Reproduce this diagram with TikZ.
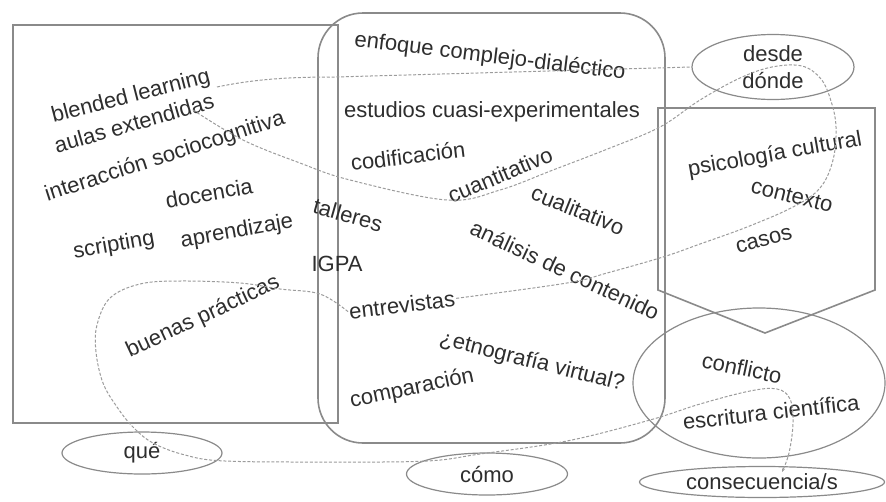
\documentclass[tikz,border=0pt]{standalone}
\usepackage{fontspec}
\setmainfont{Liberation Sans}
\usetikzlibrary{shapes.geometric,arrows.meta}
\definecolor{txt}{HTML}{2E2E2E}
\definecolor{frm}{HTML}{8A8A8A}
\definecolor{dsh}{HTML}{9C9C9C}
\begin{document}
\begin{tikzpicture}[x=1pt,y=-1pt,
  lbl/.style={font=\fontsize{22}{27}\selectfont, text=txt, inner sep=1pt},
  frame/.style={draw=frm, line width=1.6pt},
  oval/.style={ellipse, draw=frm, line width=1.2pt, inner sep=0pt, font=\fontsize{22}{27}\selectfont, text=txt, align=center},
  dl/.style={draw=dsh, line width=1pt, dash pattern=on 3pt off 1.8pt},
]
\useasboundingbox (0,0) rectangle (886,501);
\fill[white] (0,0) rectangle (886,501);

% containers
\draw[frame] (13,25) rectangle (338,423);
\draw[frame, rounded corners=45pt] (318,13) rectangle (665,443);
\draw[frame] (658,108) -- (875,108) -- (875,290) -- (765,333) -- (658,290) -- cycle;
\draw[frame, line width=1.2pt] (759,383) ellipse (126 and 75);

% ovals
\node[oval, minimum width=162pt, minimum height=65pt] (dd) at (773,67) {desde\\dónde};
\node[oval, minimum width=160pt, minimum height=42pt] (que) at (142,453) {qué};
\node[oval, minimum width=161pt, minimum height=42pt] (como) at (487,474) {cómo};
\node[oval, minimum width=245pt, minimum height=31pt] (cons) at (762,482) {consecuencia/s};

% left box labels
\node[lbl, rotate=14.5] (bl) at (131,97) {blended learning};
\node[lbl, rotate=16] (ae) at (134,123) {aulas extendidas};
\node[lbl, rotate=18] (is) at (165,157) {interacción sociocognitiva};
\node[lbl, rotate=10] (doc) at (209,193) {docencia};
\node[lbl, rotate=10] (scr) at (114,246) {scripting};
\node[lbl, rotate=10] (apr) at (237,232) {aprendizaje};
\node[lbl, rotate=-16] (tal) at (348,215) {talleres};
\node[lbl] (igpa) at (337,264) {IGPA};
\node[lbl, rotate=25] (bp) at (203,317) {buenas prácticas};

% middle labels
\node[lbl, rotate=-7] (enf) at (490,57) {enfoque complejo-dialéctico};
\node[lbl] (est) at (492,112) {estudios cuasi-experimentales};
\node[lbl, rotate=7] (cod) at (408,156) {codificación};
\node[lbl, rotate=23] (cuan) at (500,175) {cuantitativo};
\node[lbl, rotate=-22] (cual) at (578,210) {cualitativo};
\node[lbl, rotate=-25] (an) at (565,270) {análisis de contenido};
\node[lbl, rotate=7] (entr) at (402,305) {entrevistas};
\node[lbl, rotate=-14] (etn) at (532,362) {¿etnografía virtual?};
\node[lbl, rotate=12] (comp) at (412,389) {comparación};

% right labels
\node[lbl, rotate=10] (psi) at (775,155) {psicología cultural};
\node[lbl, rotate=-14] (ctx) at (792,196) {contexto};
\node[lbl, rotate=15] (cas) at (764,240) {casos};
\node[lbl, rotate=-12] (conf) at (742,368) {conflicto};
\node[lbl, rotate=6.5] (esc) at (771,412) {escritura científica};

% connectors
\coordinate (s1) at (217,87);
\coordinate (s2) at (193,110);
\coordinate (tip) at (782,472);

\draw[dl] (s1) .. controls (255,79) and (290,77) .. (335,77) -- (dd.west);

\draw[dl] plot[smooth, tension=0.6] coordinates {(s2) (243,140) (300,163) (350,180) (447,200) (500,190) (553,170) (610,148) (660,127) (700,100) (740,78) (772,67) (802,66) (821,79) (831,101) (836,127) (833,160) (820,188) (793,207) (747,227) (700,244) (663,257) (607,273) (567,283) (entr.east)};

\draw[dl, -{Stealth[length=4pt,width=3pt]}] plot[smooth, tension=0.6] coordinates {(entr.west) (320,294) (280,289) (240,283) (180,281) (140,284) (110,298) (97,325) (96,352) (103,383) (117,407) (133,427) (153,443) (185,455) (225,461) (330,462) (427,461) (480,454) (567,441) (650,420) (700,404) (750,391) (777,389) (790,399) (793,423) (789,453) (tip)};
\end{tikzpicture}
\end{document}
